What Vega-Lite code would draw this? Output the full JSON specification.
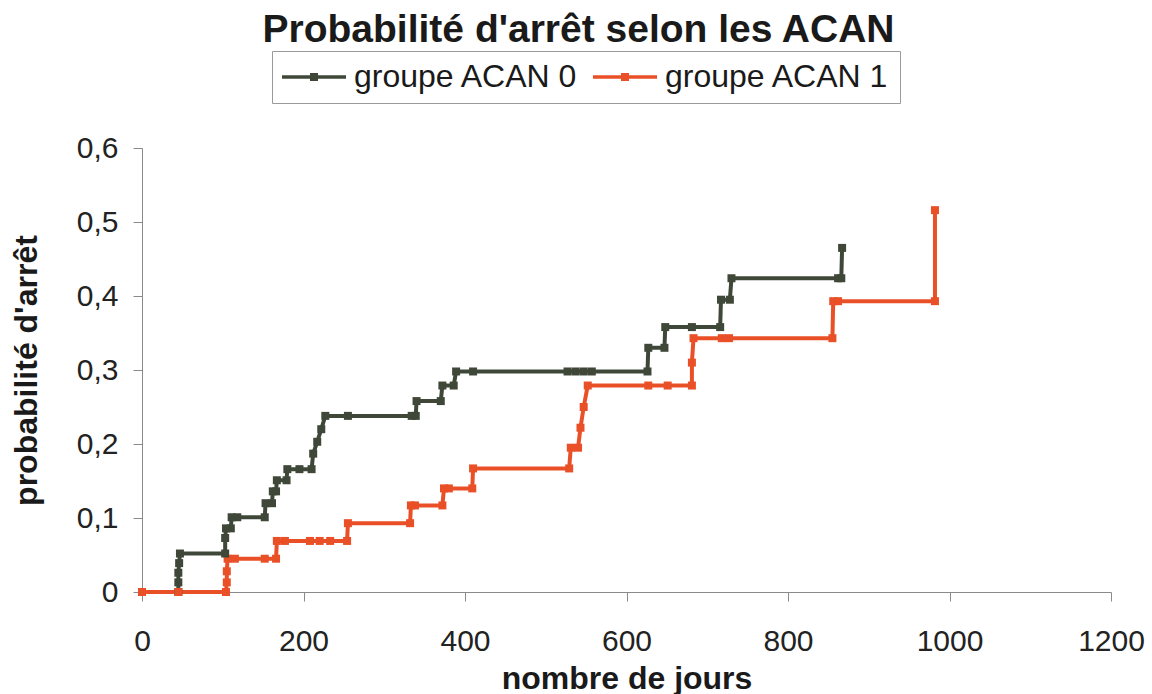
{
  "$schema": "https://vega.github.io/schema/vega-lite/v6.json",
  "width": 969,
  "height": 444,
  "autosize": {"type": "none"},
  "padding": {"left": 142, "top": 148, "right": 41, "bottom": 102},
  "background": "white",
  "title": {
    "text": "Probabilité d'arrêt selon les ACAN",
    "font": "Liberation Sans",
    "fontSize": 39,
    "fontWeight": "bold",
    "color": "#1a1a1a",
    "anchor": "middle",
    "frame": "group",
    "baseline": "alphabetic",
    "dx": -48,
    "offset": -30
  },
  "config": {
    "view": {"stroke": null},
    "axis": {
      "grid": false,
      "domainColor": "#8a8a8a",
      "tickColor": "#8a8a8a",
      "tickSize": 9,
      "labelFont": "Liberation Sans",
      "labelFontSize": 30,
      "labelColor": "#222222",
      "titleFont": "Liberation Sans",
      "titleFontSize": 32,
      "titleFontWeight": "bold",
      "titleColor": "#1a1a1a"
    }
  },
  "data": {
    "values": [
      {"groupe": "groupe ACAN 0", "i": 1, "jours": 0, "prob": 0},
      {"groupe": "groupe ACAN 0", "i": 2, "jours": 45, "prob": 0},
      {"groupe": "groupe ACAN 0", "i": 3, "jours": 45, "prob": 0.013},
      {"groupe": "groupe ACAN 0", "i": 4, "jours": 45, "prob": 0.026},
      {"groupe": "groupe ACAN 0", "i": 5, "jours": 46, "prob": 0.039},
      {"groupe": "groupe ACAN 0", "i": 6, "jours": 47, "prob": 0.052},
      {"groupe": "groupe ACAN 0", "i": 7, "jours": 103, "prob": 0.052},
      {"groupe": "groupe ACAN 0", "i": 8, "jours": 103, "prob": 0.073},
      {"groupe": "groupe ACAN 0", "i": 9, "jours": 104, "prob": 0.086},
      {"groupe": "groupe ACAN 0", "i": 10, "jours": 110, "prob": 0.086},
      {"groupe": "groupe ACAN 0", "i": 11, "jours": 111, "prob": 0.101},
      {"groupe": "groupe ACAN 0", "i": 12, "jours": 118, "prob": 0.101},
      {"groupe": "groupe ACAN 0", "i": 13, "jours": 152, "prob": 0.101},
      {"groupe": "groupe ACAN 0", "i": 14, "jours": 153, "prob": 0.12},
      {"groupe": "groupe ACAN 0", "i": 15, "jours": 161, "prob": 0.12},
      {"groupe": "groupe ACAN 0", "i": 16, "jours": 162, "prob": 0.136},
      {"groupe": "groupe ACAN 0", "i": 17, "jours": 166, "prob": 0.136},
      {"groupe": "groupe ACAN 0", "i": 18, "jours": 167, "prob": 0.151},
      {"groupe": "groupe ACAN 0", "i": 19, "jours": 179, "prob": 0.151},
      {"groupe": "groupe ACAN 0", "i": 20, "jours": 180, "prob": 0.166},
      {"groupe": "groupe ACAN 0", "i": 21, "jours": 195, "prob": 0.166},
      {"groupe": "groupe ACAN 0", "i": 22, "jours": 210, "prob": 0.166},
      {"groupe": "groupe ACAN 0", "i": 23, "jours": 212, "prob": 0.187},
      {"groupe": "groupe ACAN 0", "i": 24, "jours": 217, "prob": 0.203},
      {"groupe": "groupe ACAN 0", "i": 25, "jours": 222, "prob": 0.22},
      {"groupe": "groupe ACAN 0", "i": 26, "jours": 227, "prob": 0.238},
      {"groupe": "groupe ACAN 0", "i": 27, "jours": 255, "prob": 0.238},
      {"groupe": "groupe ACAN 0", "i": 28, "jours": 334, "prob": 0.238},
      {"groupe": "groupe ACAN 0", "i": 29, "jours": 339, "prob": 0.238},
      {"groupe": "groupe ACAN 0", "i": 30, "jours": 340, "prob": 0.258},
      {"groupe": "groupe ACAN 0", "i": 31, "jours": 370, "prob": 0.258},
      {"groupe": "groupe ACAN 0", "i": 32, "jours": 372, "prob": 0.279},
      {"groupe": "groupe ACAN 0", "i": 33, "jours": 386, "prob": 0.279},
      {"groupe": "groupe ACAN 0", "i": 34, "jours": 389, "prob": 0.298},
      {"groupe": "groupe ACAN 0", "i": 35, "jours": 410, "prob": 0.298},
      {"groupe": "groupe ACAN 0", "i": 36, "jours": 527, "prob": 0.298},
      {"groupe": "groupe ACAN 0", "i": 37, "jours": 537, "prob": 0.298},
      {"groupe": "groupe ACAN 0", "i": 38, "jours": 547, "prob": 0.298},
      {"groupe": "groupe ACAN 0", "i": 39, "jours": 557, "prob": 0.298},
      {"groupe": "groupe ACAN 0", "i": 40, "jours": 626, "prob": 0.298},
      {"groupe": "groupe ACAN 0", "i": 41, "jours": 627, "prob": 0.33},
      {"groupe": "groupe ACAN 0", "i": 42, "jours": 647, "prob": 0.33},
      {"groupe": "groupe ACAN 0", "i": 43, "jours": 648, "prob": 0.358},
      {"groupe": "groupe ACAN 0", "i": 44, "jours": 681, "prob": 0.358},
      {"groupe": "groupe ACAN 0", "i": 45, "jours": 716, "prob": 0.358},
      {"groupe": "groupe ACAN 0", "i": 46, "jours": 717, "prob": 0.395},
      {"groupe": "groupe ACAN 0", "i": 47, "jours": 728, "prob": 0.395},
      {"groupe": "groupe ACAN 0", "i": 48, "jours": 730, "prob": 0.424},
      {"groupe": "groupe ACAN 0", "i": 49, "jours": 862, "prob": 0.424},
      {"groupe": "groupe ACAN 0", "i": 50, "jours": 866, "prob": 0.424},
      {"groupe": "groupe ACAN 0", "i": 51, "jours": 867, "prob": 0.465},
      {"groupe": "groupe ACAN 1", "i": 1, "jours": 0, "prob": 0},
      {"groupe": "groupe ACAN 1", "i": 2, "jours": 45, "prob": 0},
      {"groupe": "groupe ACAN 1", "i": 3, "jours": 104, "prob": 0},
      {"groupe": "groupe ACAN 1", "i": 4, "jours": 105, "prob": 0.013},
      {"groupe": "groupe ACAN 1", "i": 5, "jours": 105, "prob": 0.028},
      {"groupe": "groupe ACAN 1", "i": 6, "jours": 106, "prob": 0.045},
      {"groupe": "groupe ACAN 1", "i": 7, "jours": 115, "prob": 0.045},
      {"groupe": "groupe ACAN 1", "i": 8, "jours": 152, "prob": 0.045},
      {"groupe": "groupe ACAN 1", "i": 9, "jours": 166, "prob": 0.045},
      {"groupe": "groupe ACAN 1", "i": 10, "jours": 167, "prob": 0.069},
      {"groupe": "groupe ACAN 1", "i": 11, "jours": 177, "prob": 0.069},
      {"groupe": "groupe ACAN 1", "i": 12, "jours": 208, "prob": 0.069},
      {"groupe": "groupe ACAN 1", "i": 13, "jours": 220, "prob": 0.069},
      {"groupe": "groupe ACAN 1", "i": 14, "jours": 233, "prob": 0.069},
      {"groupe": "groupe ACAN 1", "i": 15, "jours": 254, "prob": 0.069},
      {"groupe": "groupe ACAN 1", "i": 16, "jours": 255, "prob": 0.093},
      {"groupe": "groupe ACAN 1", "i": 17, "jours": 332, "prob": 0.093},
      {"groupe": "groupe ACAN 1", "i": 18, "jours": 333, "prob": 0.117},
      {"groupe": "groupe ACAN 1", "i": 19, "jours": 338, "prob": 0.117},
      {"groupe": "groupe ACAN 1", "i": 20, "jours": 372, "prob": 0.117},
      {"groupe": "groupe ACAN 1", "i": 21, "jours": 374, "prob": 0.14},
      {"groupe": "groupe ACAN 1", "i": 22, "jours": 380, "prob": 0.14},
      {"groupe": "groupe ACAN 1", "i": 23, "jours": 409, "prob": 0.14},
      {"groupe": "groupe ACAN 1", "i": 24, "jours": 410, "prob": 0.167},
      {"groupe": "groupe ACAN 1", "i": 25, "jours": 529, "prob": 0.167},
      {"groupe": "groupe ACAN 1", "i": 26, "jours": 531, "prob": 0.195},
      {"groupe": "groupe ACAN 1", "i": 27, "jours": 540, "prob": 0.195},
      {"groupe": "groupe ACAN 1", "i": 28, "jours": 543, "prob": 0.222},
      {"groupe": "groupe ACAN 1", "i": 29, "jours": 547, "prob": 0.25},
      {"groupe": "groupe ACAN 1", "i": 30, "jours": 552, "prob": 0.279},
      {"groupe": "groupe ACAN 1", "i": 31, "jours": 627, "prob": 0.279},
      {"groupe": "groupe ACAN 1", "i": 32, "jours": 651, "prob": 0.279},
      {"groupe": "groupe ACAN 1", "i": 33, "jours": 681, "prob": 0.279},
      {"groupe": "groupe ACAN 1", "i": 34, "jours": 681, "prob": 0.31},
      {"groupe": "groupe ACAN 1", "i": 35, "jours": 683, "prob": 0.343},
      {"groupe": "groupe ACAN 1", "i": 36, "jours": 718, "prob": 0.343},
      {"groupe": "groupe ACAN 1", "i": 37, "jours": 727, "prob": 0.343},
      {"groupe": "groupe ACAN 1", "i": 38, "jours": 855, "prob": 0.343},
      {"groupe": "groupe ACAN 1", "i": 39, "jours": 856, "prob": 0.393},
      {"groupe": "groupe ACAN 1", "i": 40, "jours": 862, "prob": 0.393},
      {"groupe": "groupe ACAN 1", "i": 41, "jours": 982, "prob": 0.393},
      {"groupe": "groupe ACAN 1", "i": 42, "jours": 982, "prob": 0.516}
    ]
  },
  "mark": {
    "type": "line",
    "strokeWidth": 4,
    "point": {"shape": "square", "filled": true, "size": 64, "opacity": 1}
  },
  "encoding": {
    "x": {
      "field": "jours",
      "type": "quantitative",
      "scale": {"domain": [0, 1200], "nice": false},
      "axis": {
        "title": "nombre de jours",
        "values": [0, 200, 400, 600, 800, 1000, 1200],
        "format": "d",
        "labelFlush": false,
        "labelPadding": 25,
        "titlePadding": 7
      }
    },
    "y": {
      "field": "prob",
      "type": "quantitative",
      "scale": {"domain": [0, 0.6], "nice": false},
      "axis": {
        "title": "probabilité d'arrêt",
        "values": [0, 0.1, 0.2, 0.3, 0.4, 0.5, 0.6],
        "labelExpr": "datum.value == 0 ? '0' : replace(format(datum.value, '.1f'), '.', ',')",
        "labelPadding": 15,
        "titlePadding": 33
      }
    },
    "order": {"field": "i", "type": "quantitative"},
    "color": {
      "field": "groupe",
      "type": "nominal",
      "scale": {
        "domain": ["groupe ACAN 0", "groupe ACAN 1"],
        "range": ["#3f4838", "#ea5027"]
      },
      "legend": {
        "title": null,
        "orient": "none",
        "legendX": 130,
        "legendY": -97,
        "direction": "horizontal",
        "strokeColor": "#9a9a9a",
        "padding": 10,
        "labelFont": "Liberation Sans",
        "labelFontSize": 32,
        "labelLimit": 400,
        "labelColor": "#1a1a1a",
        "symbolType": "M-1,-0.11H3V0.11H-1Z M0.75,-0.25H1.25V0.25H0.75Z",
        "symbolSize": 1024,
        "symbolStrokeWidth": 0,
        "symbolOpacity": 1,
        "columnPadding": 14,
        "labelOffset": 40
      }
    }
  }
}
